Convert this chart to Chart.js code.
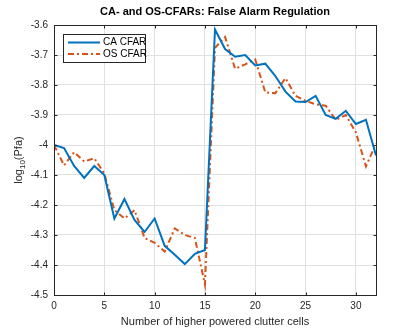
<!DOCTYPE html>
<html>
<head>
<meta charset="utf-8">
<script src="https://cdn.jsdelivr.net/npm/chart.js@4.4.1/dist/chart.umd.min.js"></script>
<style>
  html, body { margin: 0; padding: 0; background: #ffffff; }
  #wrap { width: 415px; height: 332px; position: relative; }
</style>
</head>
<body>
<div id="wrap"><canvas id="c" width="415" height="332"></canvas></div>
<script>
const chartTitle = 'CA- and OS-CFARs: False Alarm Regulation';
const xAxisTitle = 'Number of higher powered clutter cells';
const seriesNames = ['CA CFAR', 'OS CFAR'];
const cells = [0,1,2,3,4,5,6,7,8,9,10,11,12,13,14,15,16,17,18,19,20,21,22,23,24,25,26,27,28,29,30,31,32];
const caCfar = [-4.00,-4.01,-4.07,-4.11,-4.07,-4.10,-4.245,-4.18,-4.25,-4.29,-4.245,-4.336,-4.366,-4.397,-4.363,-4.35,
                -3.615,-3.68,-3.706,-3.70,-3.735,-3.729,-3.77,-3.822,-3.855,-3.857,-3.836,-3.90,-3.913,-3.886,-3.93,-3.916,-4.035];
const osCfar = [-4.00,-4.068,-4.024,-4.055,-4.044,-4.095,-4.217,-4.245,-4.217,-4.31,-4.326,-4.355,-4.278,-4.30,-4.31,-4.465,
                -3.676,-3.64,-3.746,-3.731,-3.715,-3.825,-3.827,-3.777,-3.836,-3.853,-3.864,-3.869,-3.916,-3.90,-3.958,-4.071,-3.996];
const xTicks = [0,5,10,15,20,25,30];
const yTicks = [-4.5,-4.4,-4.3,-4.2,-4.1,-4,-3.9,-3.8,-3.7,-3.6];

const BLUE = '#0072BD';
const ORANGE = '#D95319';
const AXIS = '#262626';
const FONT = '"Liberation Sans", Arial, Helvetica, sans-serif';

const decor = {
  id: 'decor',
  afterDraw(chart) {
    const ctx = chart.ctx;
    const a = chart.chartArea;
    const xs = chart.scales.x, ys = chart.scales.y;
    ctx.save();
    ctx.strokeStyle = AXIS;
    ctx.lineWidth = 1;
    const L = Math.round(a.left) + 0.5, R = Math.round(a.right) + 0.5;
    const T = Math.round(a.top) + 0.5, B = Math.round(a.bottom) + 0.5;
    ctx.strokeRect(L, T, R - L, B - T);
    ctx.beginPath();
    xTicks.forEach(v => {
      const px = Math.round(xs.getPixelForValue(v)) + 0.5;
      ctx.moveTo(px, B); ctx.lineTo(px, B - 3);
      ctx.moveTo(px, T); ctx.lineTo(px, T + 3);
    });
    yTicks.forEach(v => {
      const py = Math.round(ys.getPixelForValue(v)) + 0.5;
      ctx.moveTo(L, py); ctx.lineTo(L + 3, py);
      ctx.moveTo(R, py); ctx.lineTo(R - 3, py);
    });
    ctx.stroke();

    ctx.fillStyle = '#000';
    ctx.font = 'bold 11px ' + FONT;
    ctx.textAlign = 'center';
    ctx.textBaseline = 'middle';
    ctx.fillText(chartTitle, (a.left + a.right) / 2, 12);

    ctx.save();
    ctx.translate(18, (a.top + a.bottom) / 2);
    ctx.rotate(-Math.PI / 2);
    ctx.fillStyle = '#262626';
    const f1 = '11px ' + FONT, f2 = '8px ' + FONT;
    ctx.font = f1; const w1 = ctx.measureText('log').width;
    ctx.font = f2; const w2 = ctx.measureText('10').width;
    ctx.font = f1; const w3 = ctx.measureText('(Pfa)').width;
    let x0 = -(w1 + w2 + w3) / 2;
    ctx.textAlign = 'left';
    ctx.textBaseline = 'alphabetic';
    ctx.font = f1; ctx.fillText('log', x0, 4);
    ctx.font = f2; ctx.fillText('10', x0 + w1, 7);
    ctx.font = f1; ctx.fillText('(Pfa)', x0 + w1 + w2, 4);
    ctx.restore();

    const lx = 63.5, ly = 34.5, lw = 82, lh = 28;
    ctx.fillStyle = '#fff';
    ctx.fillRect(lx, ly, lw, lh);
    ctx.strokeStyle = AXIS;
    ctx.lineWidth = 1;
    ctx.strokeRect(lx, ly, lw, lh);
    const rows = [
      {name: seriesNames[0], color: BLUE, dash: [], y: 42.5},
      {name: seriesNames[1], color: ORANGE, dash: [6, 3, 2, 3], y: 54}
    ];
    rows.forEach(r => {
      ctx.beginPath();
      ctx.setLineDash(r.dash);
      ctx.strokeStyle = r.color;
      ctx.lineWidth = 2;
      ctx.moveTo(68, r.y); ctx.lineTo(100, r.y);
      ctx.stroke();
      ctx.setLineDash([]);
      ctx.fillStyle = '#000';
      ctx.font = '10px ' + FONT;
      ctx.textAlign = 'left';
      ctx.textBaseline = 'middle';
      ctx.fillText(r.name, 103, r.y);
    });
    ctx.restore();
  }
};

const toPts = arr => arr.map((v, i) => ({x: cells[i], y: v}));

new Chart(document.getElementById('c'), {
  type: 'line',
  data: {
    datasets: [
      { label: seriesNames[0], data: toPts(caCfar), borderColor: BLUE, borderWidth: 2,
        pointRadius: 0, tension: 0, fill: false },
      { label: seriesNames[1], data: toPts(osCfar), borderColor: ORANGE, borderWidth: 2,
        borderDash: [6, 3, 2, 3], pointRadius: 0, tension: 0, fill: false }
    ]
  },
  options: {
    responsive: false,
    animation: false,
    devicePixelRatio: 1,
    layout: { padding: { top: 25, right: 39, left: 0, bottom: 0 } },
    plugins: { legend: { display: false }, title: { display: false }, tooltip: { enabled: false } },
    scales: {
      x: {
        type: 'linear', min: 0, max: 32,
        afterFit: s => { s.height = 37; },
        afterBuildTicks: s => { s.ticks = xTicks.map(v => ({value: v})); },
        grid: { color: '#e0e0e0', drawTicks: false, lineWidth: 1 },
        border: { display: false },
        ticks: { color: '#262626', font: { family: FONT, size: 10 }, padding: 5, maxRotation: 0 },
        title: { display: true, text: xAxisTitle, color: '#262626',
                 font: { family: FONT, size: 11 }, padding: { top: 0, bottom: 3 } }
      },
      y: {
        type: 'linear', min: -4.5, max: -3.6,
        afterFit: s => { s.width = 54; },
        afterBuildTicks: s => { s.ticks = yTicks.map(v => ({value: v})); },
        grid: { color: '#e0e0e0', drawTicks: false, lineWidth: 1 },
        border: { display: false },
        ticks: { color: '#262626', font: { family: FONT, size: 10 }, padding: 6,
                 callback: v => String(Math.round(v * 10) / 10) }
      }
    }
  },
  plugins: [decor]
});
</script>
</body>
</html>
